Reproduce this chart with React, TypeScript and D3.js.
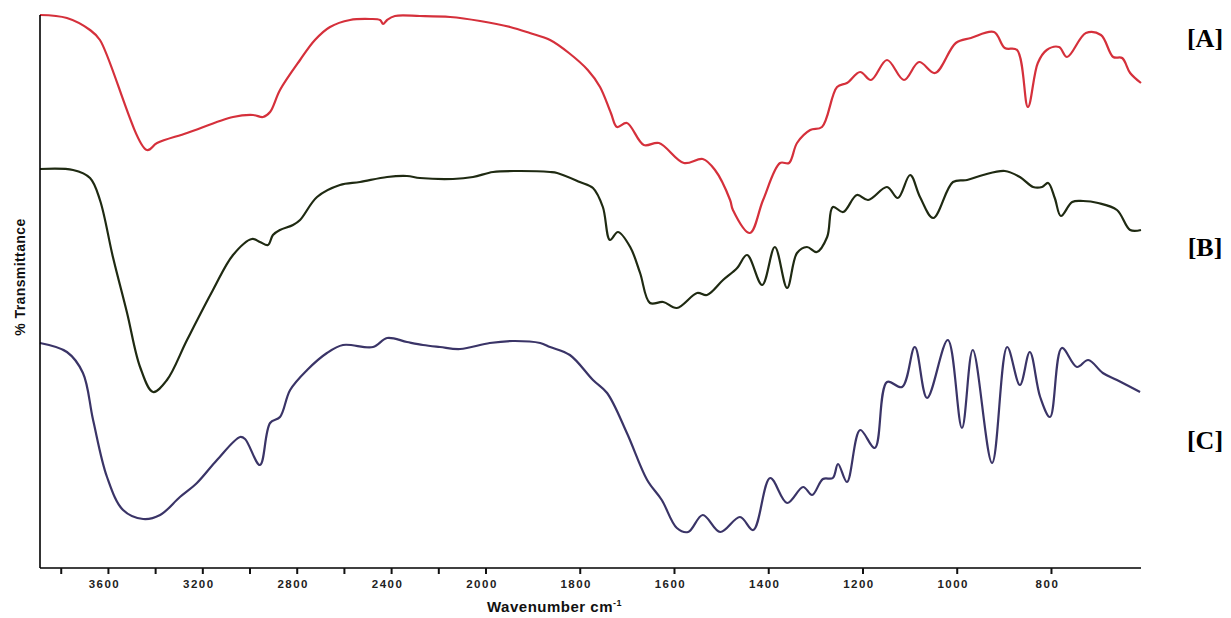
import * as d3 from 'd3'

const width = 1231
const height = 618

// [wavenumber cm-1, relative transmittance (stacked, arbitrary units)]
const spectrumA: [number, number][] = [
  [3890, 553], [3776, 550], [3678, 538], [3636, 528], [3437, 418], [3394, 425],
  [3267, 435], [3072, 451], [2987, 453], [2945, 451], [2915, 456], [2873, 478],
  [2788, 508], [2725, 528], [2661, 541], [2576, 548], [2491, 549], [2449, 548],
  [2436, 544], [2419, 548], [2386, 552], [2280, 552], [2152, 551], [2025, 547],
  [1949, 541], [1907, 535], [1864, 528], [1824, 515], [1784, 498], [1758, 481],
  [1735, 455], [1722, 441], [1701, 445], [1665, 423], [1633, 425], [1580, 405],
  [1540, 409], [1514, 398], [1482, 368], [1476, 358], [1440, 335], [1412, 368],
  [1376, 405], [1357, 405], [1340, 425], [1312, 438], [1287, 441], [1255, 481],
  [1234, 485], [1206, 496], [1183, 488], [1149, 508], [1113, 488], [1081, 506],
  [1047, 495], [1003, 525], [971, 530], [922, 536], [899, 520], [873, 518],
  [850, 461], [829, 505], [810, 518], [784, 521], [767, 511], [727, 535],
  [695, 533], [669, 511], [650, 510], [633, 495], [610, 485],
]

const spectrumB: [number, number][] = [
  [3890, 399], [3750, 398], [3678, 390], [3636, 368], [3581, 311], [3521, 255],
  [3466, 201], [3411, 176], [3352, 188], [3267, 228], [3157, 278], [3072, 313],
  [2992, 329], [2958, 326], [2924, 323], [2903, 333], [2873, 338], [2818, 343],
  [2788, 348], [2716, 371], [2619, 383], [2534, 386], [2419, 391], [2335, 392],
  [2280, 390], [2140, 389], [2055, 391], [1985, 396], [1934, 397], [1864, 396],
  [1849, 395], [1801, 386], [1773, 380], [1752, 361], [1737, 328], [1720, 336],
  [1694, 321], [1673, 295], [1652, 265], [1624, 266], [1595, 260], [1552, 275],
  [1531, 273], [1497, 288], [1467, 300], [1446, 313], [1414, 283], [1387, 321],
  [1361, 280], [1340, 315], [1319, 321], [1298, 316], [1276, 331], [1264, 361],
  [1242, 356], [1213, 373], [1189, 368], [1149, 381], [1126, 370], [1100, 393],
  [1079, 371], [1051, 350], [1009, 386], [979, 388], [945, 393], [899, 397],
  [867, 391], [839, 381], [820, 381], [807, 385], [793, 370], [780, 352],
  [756, 366], [733, 367], [701, 365], [661, 358], [633, 338], [610, 338],
]

const spectrumC: [number, number][] = [
  [3890, 225], [3776, 216], [3708, 195], [3665, 148], [3606, 91], [3538, 58],
  [3453, 49], [3381, 53], [3297, 71], [3225, 85], [3140, 108], [3042, 131],
  [3021, 129], [2958, 103], [2915, 145], [2873, 151], [2830, 178], [2758, 198],
  [2674, 215], [2606, 223], [2479, 221], [2419, 230], [2335, 226], [2267, 223],
  [2195, 221], [2110, 219], [1992, 225], [1943, 227], [1885, 225], [1864, 221],
  [1822, 213], [1773, 188], [1743, 175], [1701, 135], [1658, 88], [1627, 68],
  [1595, 40], [1571, 36], [1540, 53], [1503, 36], [1461, 51], [1433, 38],
  [1397, 90], [1361, 65], [1327, 81], [1308, 73], [1285, 89], [1264, 90],
  [1253, 104], [1234, 86], [1206, 138], [1175, 120], [1149, 186], [1117, 181],
  [1090, 221], [1064, 170], [1020, 228], [990, 140], [967, 218], [926, 105],
  [894, 221], [867, 183], [846, 216], [824, 171], [803, 151], [778, 220],
  [746, 201], [722, 208], [691, 195], [661, 188], [612, 176],
]

const series = [
  { name: '[A]', data: spectrumA, color: '#d5303b', labelY: 47 },
  { name: '[B]', data: spectrumB, color: '#1f2a12', labelY: 256 },
  { name: '[C]', data: spectrumC, color: '#3a3467', labelY: 449 },
]

const majorTicks = [3800, 3600, 3400, 3200, 3000, 2800, 2600, 2400, 2200, 2000,
  1800, 1600, 1400, 1200, 1000, 800]
const tickLabels = [3600, 3200, 2800, 2400, 2000, 1800, 1600, 1400, 1200, 1000, 800]

export default function App() {
  // IR-style axis: compressed scale above 2000 cm-1
  const x = d3.scaleLinear().domain([3890, 2000, 610]).range([40, 486, 1141])
  const y = d3.scaleLinear().domain([0, 553]).range([568, 15])

  const line = d3
    .line<[number, number]>()
    .x((d) => x(d[0]))
    .y((d) => y(d[1]))
    .curve(d3.curveCatmullRom.alpha(0.5))

  const [x0, x1] = [x(3890), x(610)]
  const yBottom = y(0)

  return (
    <svg
      width={width}
      height={height}
      style={{ position: 'absolute', left: 0, top: 0, background: '#fff' }}
    >
      {series.map((s) => (
        <path
          key={s.name}
          d={line(s.data) ?? ''}
          fill="none"
          stroke={s.color}
          strokeWidth={2.2}
          strokeLinejoin="round"
        />
      ))}

      <line x1={x0} x2={x0} y1={y(553)} y2={yBottom} stroke="#000" strokeWidth={1.6} />
      <line x1={x0} x2={x1} y1={yBottom} y2={yBottom} stroke="#000" strokeWidth={1.6} />

      {majorTicks.map((t) => (
        <line
          key={t}
          x1={x(t)}
          x2={x(t)}
          y1={yBottom}
          y2={yBottom + 6}
          stroke="#111"
          strokeWidth={2}
        />
      ))}
      {tickLabels.map((t) => (
        <text
          key={t}
          x={x(t) - 4}
          y={yBottom + 20}
          textAnchor="middle"
          fontFamily="Liberation Sans, Arial, sans-serif"
          fontWeight="bold"
          fontSize={11.5}
          letterSpacing={1.5}
          fill="#222"
        >
          {t}
        </text>
      ))}

      <text
        x={487}
        y={612}
        fontFamily="Liberation Sans, Arial, sans-serif"
        fontWeight="bold"
        fontSize={15}
        letterSpacing={0.5}
        fill="#111"
      >
        Wavenumber cm
        <tspan fontSize={9} dy={-6}>-1</tspan>
      </text>

      <text
        transform="translate(25,277) rotate(-90)"
        textAnchor="middle"
        fontFamily="Liberation Sans, Arial, sans-serif"
        fontWeight="bold"
        fontSize={14}
        letterSpacing={0.4}
        fill="#111"
      >
        % Transmittance
      </text>

      {series.map((s) => (
        <text
          key={s.name}
          x={1205}
          y={s.labelY}
          textAnchor="middle"
          fontFamily="Liberation Serif, Times New Roman, serif"
          fontWeight="bold"
          fontSize={26}
          fill="#000"
        >
          {s.name}
        </text>
      ))}
    </svg>
  )
}
